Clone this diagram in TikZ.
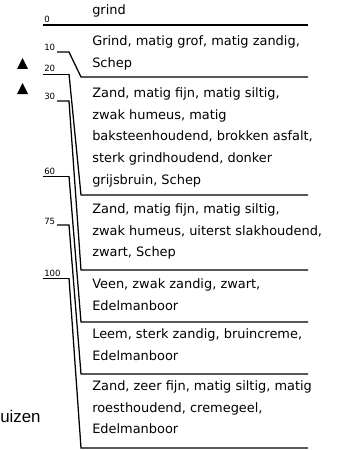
\documentclass[tikz,border=0pt]{standalone}
\usepackage{fontspec}
\newfontfamily\logfont{DejaVu Sans}
\newfontfamily\sidefont{Liberation Sans}

\begin{document}
\begin{tikzpicture}[x=0.25mm, y=-0.25mm,
  layer/.style={anchor=north west, inner sep=0pt, align=left,
    font=\logfont\fontsize{9.2}{15.6}\selectfont},
  depth/.style={anchor=base west, inner sep=0pt,
    font=\logfont\fontsize{6.1}{7}\selectfont},
  bound/.style={line width=0.9pt},
  tick/.style={line width=0.5pt}]

  \useasboundingbox (0,0) rectangle (340,450);

  % Key points: column boundaries (left edge) and right edge
  \coordinate (R) at (308,0);
  \coordinate (B0) at (43,25);
  \coordinate (B10) at (81,77);
  \coordinate (B20) at (81,195);
  \coordinate (B30) at (81,270);
  \coordinate (B60) at (81,322);
  \coordinate (B75) at (81,374);
  \coordinate (B100) at (81,448);

  % Depth ticks
  \coordinate (S10) at (57,52);   \coordinate (T10) at (69,52);
  \coordinate (S20) at (43,74);   \coordinate (T20) at (69,74);
  \coordinate (S30) at (57,101);  \coordinate (T30) at (69,101);
  \coordinate (S60) at (43,176);  \coordinate (T60) at (69,176);
  \coordinate (S75) at (57,225);  \coordinate (T75) at (69,225);
  \coordinate (S100) at (43,278); \coordinate (T100) at (69,278);

  % Depth labels
  \node[depth] (d0) at (44,23) {0};
  \node[depth] (d10) at (44,51) {10};
  \node[depth] (d20) at (44,72) {20};
  \node[depth] (d30) at (44,99) {30};
  \node[depth] (d60) at (44,174) {60};
  \node[depth] (d75) at (44,224) {75};
  \node[depth] (d100) at (44,276) {100};

  % Boundaries and connectors
  \draw[bound] (B0) -- (B0 -| R);
  \draw[bound] (S10) -- (T10) -- (B10) -- (B10 -| R);
  \draw[tick] (S20) -- (T20);
  \draw[bound] (T20) -- (B20) -- (B20 -| R);
  \draw[bound] (S30) -- (T30) -- (B30) -- (B30 -| R);
  \draw[tick] (S60) -- (T60);
  \draw[bound] (T60) -- (B60) -- (B60 -| R);
  \draw[bound] (S75) -- (T75) -- (B75) -- (B75 -| R);
  \draw[tick] (S100) -- (T100);
  \draw[bound] (T100) -- (B100) -- (B100 -| R);

  % Water level markers
  \fill (17,69) -- (28,69) -- (22.5,58) -- cycle;
  \fill (17,94) -- (28,94) -- (22.5,83) -- cycle;

  % Layer descriptions
  \node[layer] (top) at (92,4) {grind};
  \node[layer] (grof) at (92,35) {Grind, matig grof, matig zandig,\\Schep};
  \node[layer] (zandA) at (92,87) {Zand, matig fijn, matig siltig,\\zwak humeus, matig\\baksteenhoudend, brokken asfalt,\\sterk grindhoudend, donker\\grijsbruin, Schep};
  \node[layer] (zandB) at (92,203) {Zand, matig fijn, matig siltig,\\zwak humeus, uiterst slakhoudend,\\zwart, Schep};
  \node[layer] (veen) at (92,278) {Veen, zwak zandig, zwart,\\Edelmanboor};
  \node[layer] (leem) at (92,328) {Leem, sterk zandig, bruincreme,\\Edelmanboor};
  \node[layer] (zandC) at (92,380) {Zand, zeer fijn, matig siltig, matig\\roesthoudend, cremegeel,\\Edelmanboor};

  % Side text
  \node[anchor=base west, inner sep=0pt, font=\sidefont\fontsize{12}{14}\selectfont] (buis) at (0,422) {uizen};

\end{tikzpicture}
\end{document}
